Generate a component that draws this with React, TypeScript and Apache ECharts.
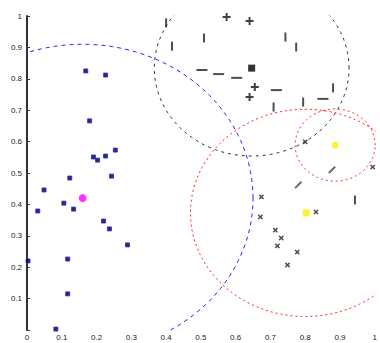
import React, { useEffect, useRef } from "react";
import * as echarts from "echarts";

// cluster 1 (blue squares)
const cluster1: [number, number][] = [
  [0.169, 0.825], [0.226, 0.812], [0.18, 0.666], [0.191, 0.551], [0.203, 0.541],
  [0.226, 0.554], [0.254, 0.573], [0.123, 0.484], [0.243, 0.49], [0.049, 0.446],
  [0.106, 0.404], [0.134, 0.385], [0.031, 0.379], [0.22, 0.347], [0.237, 0.322],
  [0.289, 0.271], [0.117, 0.226], [0.003, 0.22], [0.117, 0.115], [0.083, 0.003],
];
// cluster 2 (plus markers, some rendered as bars)
const cluster2Plus: [number, number][] = [
  [0.574, 0.997], [0.64, 0.984], [0.655, 0.774], [0.64, 0.742],
];
const cluster2Vertical: [number, number][] = [
  [0.4, 0.978], [0.417, 0.904], [0.509, 0.93], [0.743, 0.933], [0.774, 0.901],
  [0.88, 0.771], [0.794, 0.726], [0.709, 0.71], [0.943, 0.414],
];
const cluster2Horizontal: [number, number][] = [
  [0.503, 0.828], [0.551, 0.815], [0.603, 0.803], [0.717, 0.764], [0.851, 0.736],
];
// cluster 3 (x markers)
const cluster3: [number, number][] = [
  [0.674, 0.424], [0.671, 0.36], [0.831, 0.376], [0.714, 0.318], [0.731, 0.293],
  [0.72, 0.268], [0.777, 0.248], [0.749, 0.207], [0.8, 0.599], [0.994, 0.519],
];
const cluster3Diag: [number, number][] = [
  [0.877, 0.51], [0.78, 0.462],
];
// centroids
const centroidMagenta: [number, number][] = [[0.16, 0.42]];
const centroidBlack: [number, number][] = [[0.646, 0.834]];
const centroidYellowStar: [number, number][] = [[0.886, 0.589]];
const centroidYellowSquare: [number, number][] = [[0.803, 0.373]];

// circles: [cx, cy, r]
const circleBlue = [0.16, 0.42, 0.49];
const circleBlack = [0.646, 0.834, 0.28];
const circleRedSmall = [0.886, 0.589, 0.115];
const circleRedLarge = [0.8, 0.373, 0.33];

const xTicks = [0, 0.1, 0.2, 0.3, 0.4, 0.5, 0.6, 0.7, 0.8, 0.9, 1];

function circlePoints(c: number[]): [number, number][] {
  const pts: [number, number][] = [];
  for (let a = 0; a <= 360; a += 2) {
    const t = (a * Math.PI) / 180;
    pts.push([c[0] + c[2] * Math.cos(t), c[1] + c[2] * Math.sin(t)]);
  }
  return pts;
}

const PLUS = "path://M3,0H5V3H8V5H5V8H3V5H0V3H3Z";

export default function App() {
  const ref = useRef<HTMLDivElement>(null);
  useEffect(() => {
    const chart = echarts.init(ref.current!, null, { renderer: "svg" });
    const circleSeries = (c: number[], color: string, dash: number[], w = 1) => ({
      type: "line",
      data: circlePoints(c),
      showSymbol: false,
      symbol: "none",
      smooth: false,
      clip: true,
      silent: true,
      lineStyle: { color, width: w, type: dash },
      z: 1,
    });
    chart.setOption({
      animation: false,
      grid: { left: 27, right: 3, top: 16, bottom: 13, containLabel: false },
      xAxis: {
        type: "value",
        min: 0,
        max: 1,
        interval: 0.1,
        axisLine: { show: false },
        axisTick: { show: false },
        splitLine: { show: false },
        axisLabel: {
          fontSize: 8,
          color: "#222",
          margin: 3,
          formatter: (v: number) => (xTicks.includes(Math.round(v * 10) / 10) ? String(Math.round(v * 10) / 10) : ""),
        },
      },
      yAxis: {
        type: "value",
        min: 0,
        max: 1,
        interval: 0.1,
        axisLine: { show: true, lineStyle: { color: "#333", width: 2 } },
        axisTick: { show: true, inside: true, length: 3, lineStyle: { color: "#333" } },
        splitLine: { show: false },
        axisLabel: {
          fontSize: 8,
          color: "#222",
          margin: 5,
          formatter: (v: number) => (v === 0 ? "" : String(Math.round(v * 10) / 10)),
        },
      },
      series: [
        circleSeries(circleBlue, "#2020ff", [4, 4]),
        circleSeries(circleBlack, "#333", [3, 4]),
        circleSeries(circleRedSmall, "#ff2020", [2, 3]),
        circleSeries(circleRedLarge, "#ff2020", [2, 3]),
        {
          type: "scatter",
          data: cluster1,
          symbol: "rect",
          symbolSize: 4,
          itemStyle: { color: "#000", borderColor: "#2222ff", borderWidth: 1 },
          z: 3,
        },
        {
          type: "scatter",
          data: cluster2Plus,
          symbol: PLUS,
          symbolSize: 8,
          itemStyle: { color: "#111" },
          z: 3,
        },
        {
          type: "scatter",
          data: cluster2Vertical,
          symbol: "rect",
          symbolSize: [2, 9],
          itemStyle: { color: "#222" },
          z: 3,
        },
        {
          type: "scatter",
          data: cluster2Horizontal,
          symbol: "rect",
          symbolSize: [11, 2],
          itemStyle: { color: "#222" },
          z: 3,
        },
        {
          type: "scatter",
          data: cluster3,
          symbol: PLUS,
          symbolSize: 6,
          symbolRotate: 45,
          itemStyle: { color: "#222" },
          z: 3,
        },
        {
          type: "scatter",
          data: cluster3Diag,
          symbol: "rect",
          symbolSize: [2, 9],
          symbolRotate: -45,
          itemStyle: { color: "#444" },
          z: 3,
        },
        {
          type: "scatter",
          data: centroidMagenta,
          symbol: "circle",
          symbolSize: 8,
          itemStyle: { color: "#ff00ff" },
          z: 4,
        },
        {
          type: "scatter",
          data: centroidBlack,
          symbol: "rect",
          symbolSize: 7,
          itemStyle: { color: "#000" },
          z: 4,
        },
        {
          type: "scatter",
          data: centroidYellowStar,
          symbol: "circle",
          symbolSize: 7,
          itemStyle: { color: "#ffee00" },
          z: 4,
        },
        {
          type: "scatter",
          data: centroidYellowSquare,
          symbol: "rect",
          symbolSize: 7,
          itemStyle: { color: "#ffee00" },
          z: 4,
        },
      ],
    });
    return () => chart.dispose();
  }, []);
  return <div ref={ref} style={{ width: 380, height: 343, position: "absolute", left: 0, top: 0, background: "#fff" }} />;
}
